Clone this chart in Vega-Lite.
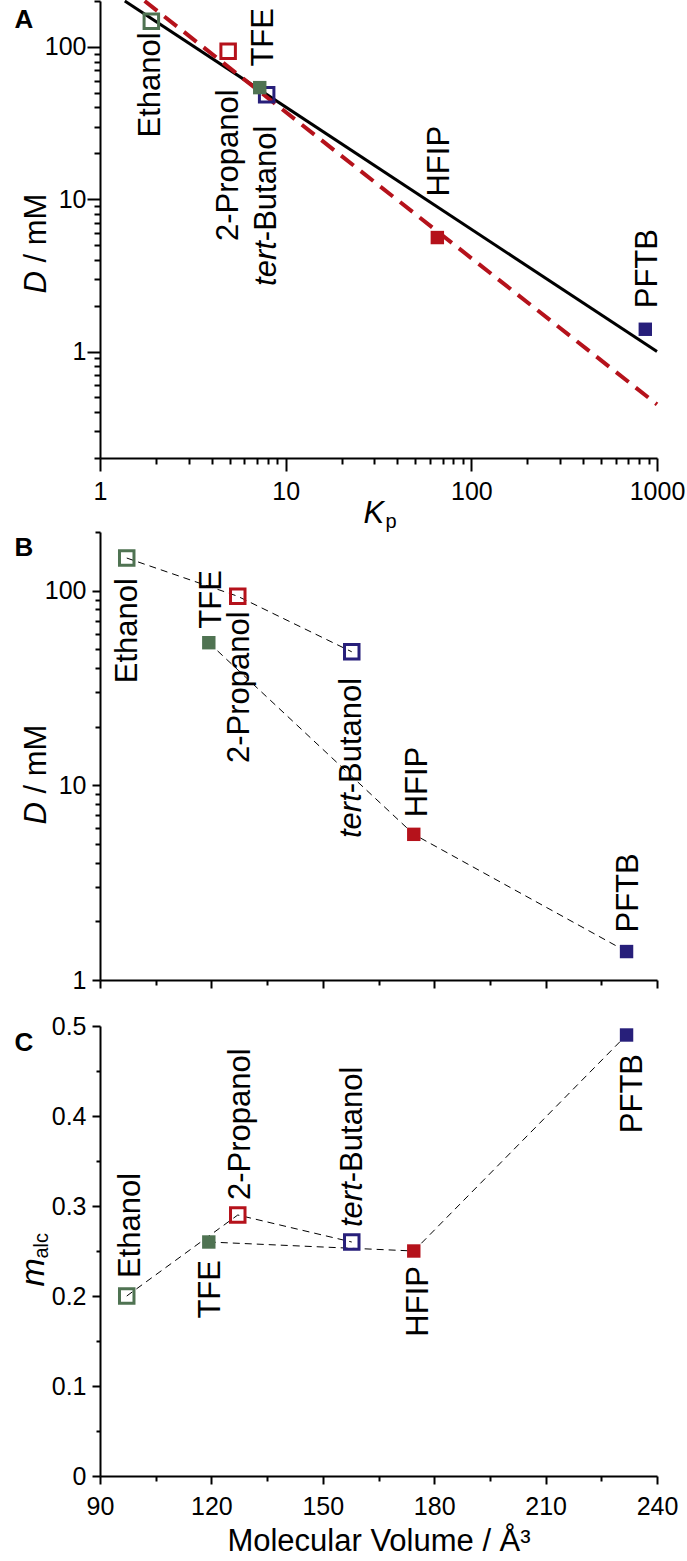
{
  "$schema": "https://vega.github.io/schema/vega-lite/v6.json",
  "background": "white",
  "padding": {"left": 14, "top": -7, "right": 0, "bottom": 0},
  "datasets": {
    "alc": [
      {"name": "Ethanol", "fluoro": false, "Kp": 1.89, "D": 147, "vol": 97.2, "malc": 0.20},
      {"name": "TFE", "fluoro": true, "Kp": 7.25, "D": 54, "vol": 119.3, "malc": 0.26},
      {"name": "2-Propanol", "fluoro": false, "Kp": 4.9, "D": 93.5, "vol": 127.1, "malc": 0.29},
      {"name": "HFIP", "fluoro": true, "Kp": 65.6, "D": 5.6, "vol": 174.5, "malc": 0.25},
      {"name": "tert-Butanol", "fluoro": false, "Kp": 7.9, "D": 48.5, "vol": 157.8, "malc": 0.26},
      {"name": "PFTB", "fluoro": true, "Kp": 865, "D": 1.4, "vol": 231.8, "malc": 0.49}
    ],
    "fits": [
      {"fit": "all", "Kp": 1.36, "D": 200},
      {"fit": "all", "Kp": 1000, "D": 1.0},
      {"fit": "sub", "Kp": 1.74, "D": 200},
      {"fit": "sub", "Kp": 1000, "D": 0.45}
    ]
  },
  "spacing": 0,
  "vconcat": [
    {
      "width": 557,
      "height": 457,
      "resolve": {"axis": {"x": "independent", "y": "independent"}},
      "encoding": {
        "x": {"field": "Kp", "type": "quantitative", "scale": {"type": "log", "domain": [1, 1000], "nice": false}, "axis": null},
        "y": {"field": "D", "type": "quantitative", "scale": {"type": "log", "domain": [0.2, 200], "nice": false}, "axis": null}
      },
      "layer": [
        {"data": {"name": "fits"}, "transform": [{"filter": "datum.fit == 'all'"}],
         "mark": {"type": "line", "color": "black", "strokeWidth": 3},
         "encoding": {
           "y": {"field": "D", "type": "quantitative", "scale": {"type": "log", "domain": [0.2, 200], "nice": false},
             "axis": {"orient": "left", "title": "A", "titleAngle": 0, "titleFontWeight": "bold", "titleFontSize": 26,
               "domain": false, "ticks": false, "labels": false,
               "titleX": -86, "titleY": 26, "titleAlign": "left", "titleBaseline": "alphabetic"}}}},
        {"data": {"name": "fits"}, "transform": [{"filter": "datum.fit == 'sub'"}],
         "mark": {"type": "line", "color": "#b5121b", "strokeWidth": 4, "strokeDash": [16, 9]}, "encoding": {}},
        {"data": {"name": "alc"}, "transform": [{"filter": "!datum.fluoro"}],
         "mark": {"type": "square", "filled": false, "size": 210, "strokeWidth": 3, "opacity": 1},
         "encoding": {
           "x": {"field": "Kp", "type": "quantitative", "scale": {"type": "log", "domain": [1, 1000], "nice": false},
             "axis": {"orient": "bottom", "title": "K", "titleFontStyle": "italic",
               "values": [1,2,3,4,5,6,7,8,9,10,20,30,40,50,60,70,80,90,100,200,300,400,500,600,700,800,900,1000],
               "labelExpr": "indexof([1,10,100,1000], datum.value) >= 0 ? datum.value + '' : ''",
               "tickSize": {"condition": {"test": "indexof([1,10,100,1000], datum.value) >= 0", "value": 13}, "value": 6},
               "labelPadding": 8, "titleX": 263, "titleY": 64, "titleAlign": "left", "titleBaseline": "alphabetic"}},
           "y": {"field": "D", "type": "quantitative", "scale": {"type": "log", "domain": [0.2, 200], "nice": false},
             "axis": {"orient": "left", "title": "D", "titleFontStyle": "italic",
               "values": [0.2,0.3,0.4,0.5,0.6,0.7,0.8,0.9,1,2,3,4,5,6,7,8,9,10,20,30,40,50,60,70,80,90,100],
               "labelExpr": "indexof([1,10,100], datum.value) >= 0 ? datum.value + '' : ''",
               "tickSize": {"condition": {"test": "indexof([1,10,100], datum.value) >= 0", "value": 13}, "value": 6},
               "labelPadding": 1, "titleX": -55, "titleY": 292, "titleAlign": "left", "titleBaseline": "alphabetic"}},
           "color": {"field": "name", "type": "nominal", "legend": null,
             "scale": {"domain": ["Ethanol","TFE","2-Propanol","HFIP","tert-Butanol","PFTB"], "range": ["#4f7352","#4f7352","#b5121b","#b5121b","#271f7a","#271f7a"]}}}},
        {"data": {"name": "alc"}, "transform": [{"filter": "datum.fluoro"}],
         "mark": {"type": "square", "filled": true, "size": 180, "opacity": 1},
         "encoding": {
           "x": {"field": "Kp", "type": "quantitative", "scale": {"type": "log", "domain": [1, 1000], "nice": false},
             "axis": {"orient": "bottom", "title": "p", "domain": false, "ticks": false, "labels": false, "titleFontSize": 20,
               "titleX": 285, "titleY": 69, "titleAlign": "left", "titleBaseline": "alphabetic"}},
           "y": {"field": "D", "type": "quantitative", "scale": {"type": "log", "domain": [0.2, 200], "nice": false},
             "axis": {"orient": "left", "title": "/ mM", "domain": false, "ticks": true, "labels": false,
               "values": [200], "tickSize": 6,
               "titleX": -55, "titleY": 261, "titleAlign": "left", "titleBaseline": "alphabetic"}},
           "color": {"field": "name", "type": "nominal", "legend": null}}},
        {"data": {"name": "alc"}, "transform": [{"filter": "datum.name == 'Ethanol'"}],
         "mark": {"type": "text", "font": "Liberation Sans", "fontSize": 31, "angle": 270, "baseline": "middle", "color": "black", "align": "right", "dx": -11, "dy": 0},
         "encoding": {"text": {"field": "name"}}},
        {"data": {"name": "alc"}, "transform": [{"filter": "datum.name == '2-Propanol'"}],
         "mark": {"type": "text", "font": "Liberation Sans", "fontSize": 31, "angle": 270, "baseline": "middle", "color": "black", "align": "right", "dx": -38, "dy": 1},
         "encoding": {"text": {"field": "name"}}},
        {"data": {"name": "alc"}, "transform": [{"filter": "datum.name == 'tert-Butanol'"}],
         "mark": {"type": "text", "font": "Liberation Sans", "fontSize": 31, "angle": 270, "baseline": "middle", "color": "black", "align": "right", "dx": -31, "dy": 0},
         "encoding": {"text": {"value": "-Butanol"}}},
        {"data": {"name": "alc"}, "transform": [{"filter": "datum.name == 'tert-Butanol'"}],
         "mark": {"type": "text", "font": "Liberation Sans", "fontSize": 31, "fontStyle": "italic", "angle": 270, "baseline": "middle", "color": "black", "align": "right", "dx": -146.4, "dy": 0},
         "encoding": {"text": {"value": "tert"}}},
        {"data": {"name": "alc"}, "transform": [{"filter": "datum.name == 'TFE'"}],
         "mark": {"type": "text", "font": "Liberation Sans", "fontSize": 31, "angle": 270, "baseline": "middle", "color": "black", "align": "left", "dx": 21, "dy": 4},
         "encoding": {"text": {"field": "name"}}},
        {"data": {"name": "alc"}, "transform": [{"filter": "datum.name == 'HFIP'"}],
         "mark": {"type": "text", "font": "Liberation Sans", "fontSize": 31, "angle": 270, "baseline": "middle", "color": "black", "align": "left", "dx": 41, "dy": 3},
         "encoding": {"text": {"field": "name"}}},
        {"data": {"name": "alc"}, "transform": [{"filter": "datum.name == 'PFTB'"}],
         "mark": {"type": "text", "font": "Liberation Sans", "fontSize": 31, "angle": 270, "baseline": "middle", "color": "black", "align": "left", "dx": 21, "dy": 3},
         "encoding": {"text": {"field": "name"}}}
      ]
    },
    {
      "width": 557,
      "height": 448,
      "resolve": {"axis": {"y": "independent"}},
      "encoding": {
        "x": {"field": "vol", "type": "quantitative",
          "scale": {"domain": [90, 240], "nice": false, "zero": false},
          "axis": {"title": null, "labels": false,
            "values": [90,105,120,135,150,165,180,195,210,225,240],
            "tickSize": {"condition": {"test": "datum.value % 30 == 0", "value": 8}, "value": 5},
            "minExtent": 34}},
        "y": {"field": "D", "type": "quantitative", "scale": {"type": "log", "domain": [1, 200], "nice": false}, "axis": null}
      },
      "layer": [
        {"data": {"name": "alc"},
         "mark": {"type": "line", "color": "black", "strokeWidth": 1, "strokeDash": [7, 5]},
         "encoding": {
           "detail": {"field": "fluoro", "type": "nominal"},
           "y": {"field": "D", "type": "quantitative", "scale": {"type": "log", "domain": [1, 200], "nice": false},
             "axis": {"orient": "left", "title": "B", "titleAngle": 0, "titleFontWeight": "bold", "titleFontSize": 26,
               "domain": false, "ticks": false, "labels": false,
               "titleX": -86, "titleY": 23, "titleAlign": "left", "titleBaseline": "alphabetic"}}}},
        {"data": {"name": "alc"}, "transform": [{"filter": "!datum.fluoro"}],
         "mark": {"type": "square", "filled": false, "size": 210, "strokeWidth": 3, "opacity": 1},
         "encoding": {
           "y": {"field": "D", "type": "quantitative", "scale": {"type": "log", "domain": [1, 200], "nice": false},
             "axis": {"orient": "left", "title": "D", "titleFontStyle": "italic",
               "values": [1,2,3,4,5,6,7,8,9,10,20,30,40,50,60,70,80,90,100],
               "labelExpr": "indexof([1,10,100], datum.value) >= 0 ? datum.value + '' : ''",
               "tickSize": {"condition": {"test": "indexof([1,10,100], datum.value) >= 0", "value": 8}, "value": 5},
               "labelPadding": 6, "titleX": -55, "titleY": 292, "titleAlign": "left", "titleBaseline": "alphabetic"}},
           "color": {"field": "name", "type": "nominal", "legend": null}}},
        {"data": {"name": "alc"}, "transform": [{"filter": "datum.fluoro"}],
         "mark": {"type": "square", "filled": true, "size": 180, "opacity": 1},
         "encoding": {
           "y": {"field": "D", "type": "quantitative", "scale": {"type": "log", "domain": [1, 200], "nice": false},
             "axis": {"orient": "left", "title": "/ mM", "domain": false, "ticks": true, "labels": false,
               "values": [200], "tickSize": 5,
               "titleX": -55, "titleY": 261, "titleAlign": "left", "titleBaseline": "alphabetic"}},
           "color": {"field": "name", "type": "nominal", "legend": null}}},
        {"data": {"name": "alc"}, "transform": [{"filter": "datum.name == 'Ethanol'"}],
         "mark": {"type": "text", "font": "Liberation Sans", "fontSize": 31, "angle": 270, "baseline": "middle", "color": "black", "align": "right", "dx": -20, "dy": 1},
         "encoding": {"text": {"field": "name"}}},
        {"data": {"name": "alc"}, "transform": [{"filter": "datum.name == 'TFE'"}],
         "mark": {"type": "text", "font": "Liberation Sans", "fontSize": 31, "angle": 270, "baseline": "middle", "color": "black", "align": "left", "dx": 14, "dy": 3},
         "encoding": {"text": {"field": "name"}}},
        {"data": {"name": "alc"}, "transform": [{"filter": "datum.name == '2-Propanol'"}],
         "mark": {"type": "text", "font": "Liberation Sans", "fontSize": 31, "angle": 270, "baseline": "middle", "color": "black", "align": "right", "dx": -15, "dy": 2},
         "encoding": {"text": {"field": "name"}}},
        {"data": {"name": "alc"}, "transform": [{"filter": "datum.name == 'tert-Butanol'"}],
         "mark": {"type": "text", "font": "Liberation Sans", "fontSize": 31, "angle": 270, "baseline": "middle", "color": "black", "align": "right", "dx": -26, "dy": 0},
         "encoding": {"text": {"value": "-Butanol"}}},
        {"data": {"name": "alc"}, "transform": [{"filter": "datum.name == 'tert-Butanol'"}],
         "mark": {"type": "text", "font": "Liberation Sans", "fontSize": 31, "fontStyle": "italic", "angle": 270, "baseline": "middle", "color": "black", "align": "right", "dx": -141.4, "dy": 0},
         "encoding": {"text": {"value": "tert"}}},
        {"data": {"name": "alc"}, "transform": [{"filter": "datum.name == 'HFIP'"}],
         "mark": {"type": "text", "font": "Liberation Sans", "fontSize": 31, "angle": 270, "baseline": "middle", "color": "black", "align": "left", "dx": 17, "dy": 4},
         "encoding": {"text": {"field": "name"}}},
        {"data": {"name": "alc"}, "transform": [{"filter": "datum.name == 'PFTB'"}],
         "mark": {"type": "text", "font": "Liberation Sans", "fontSize": 31, "angle": 270, "baseline": "middle", "color": "black", "align": "left", "dx": 19, "dy": 2},
         "encoding": {"text": {"field": "name"}}}
      ]
    },
    {
      "width": 557,
      "height": 450,
      "resolve": {"axis": {"y": "independent"}},
      "encoding": {
        "x": {"field": "vol", "type": "quantitative",
          "scale": {"domain": [90, 240], "nice": false, "zero": false},
          "axis": {"title": "Molecular Volume / Å³",
            "values": [90,105,120,135,150,165,180,195,210,225,240],
            "labelExpr": "datum.value % 30 == 0 ? datum.value + '' : ''",
            "tickSize": {"condition": {"test": "datum.value % 30 == 0", "value": 8}, "value": 5},
            "labelPadding": 10, "titleY": 74, "titleBaseline": "alphabetic"}},
        "y": {"field": "malc", "type": "quantitative", "scale": {"domain": [0, 0.5], "nice": false}, "axis": null}
      },
      "layer": [
        {"data": {"name": "alc"},
         "mark": {"type": "line", "color": "black", "strokeWidth": 1, "strokeDash": [7, 5]},
         "encoding": {
           "detail": {"field": "fluoro", "type": "nominal"},
           "y": {"field": "malc", "type": "quantitative", "scale": {"domain": [0, 0.5], "nice": false},
             "axis": {"orient": "left", "title": "C", "titleAngle": 0, "titleFontWeight": "bold", "titleFontSize": 26,
               "domain": false, "ticks": false, "labels": false,
               "titleX": -86, "titleY": 24, "titleAlign": "left", "titleBaseline": "alphabetic"}}}},
        {"data": {"name": "alc"}, "transform": [{"filter": "!datum.fluoro"}],
         "mark": {"type": "square", "filled": false, "size": 210, "strokeWidth": 3, "opacity": 1},
         "encoding": {
           "y": {"field": "malc", "type": "quantitative", "scale": {"domain": [0, 0.5], "nice": false},
             "axis": {"orient": "left", "title": "m", "titleFontStyle": "italic", "titleFontSize": 34,
               "values": [0,0.05,0.1,0.15,0.2,0.25,0.3,0.35,0.4,0.45,0.5],
               "labelExpr": "indexof([0,0.1,0.2,0.3,0.4,0.5], datum.value) >= 0 ? datum.value + '' : ''",
               "tickSize": {"condition": {"test": "indexof([0,0.1,0.2,0.3,0.4,0.5], datum.value) >= 0", "value": 8}, "value": 4},
               "labelPadding": 6, "titleX": -57, "titleY": 260, "titleAlign": "left", "titleBaseline": "alphabetic"}},
           "color": {"field": "name", "type": "nominal", "legend": null}}},
        {"data": {"name": "alc"}, "transform": [{"filter": "datum.fluoro"}],
         "mark": {"type": "square", "filled": true, "size": 180, "opacity": 1},
         "encoding": {
           "y": {"field": "malc", "type": "quantitative", "scale": {"domain": [0, 0.5], "nice": false},
             "axis": {"orient": "left", "title": "alc", "titleFontSize": 20, "domain": false, "ticks": false, "labels": false,
               "titleX": -53, "titleY": 232, "titleAlign": "left", "titleBaseline": "alphabetic"}},
           "color": {"field": "name", "type": "nominal", "legend": null}}},
        {"data": {"name": "alc"}, "transform": [{"filter": "datum.name == 'Ethanol'"}],
         "mark": {"type": "text", "font": "Liberation Sans", "fontSize": 31, "angle": 270, "baseline": "middle", "color": "black", "align": "left", "dx": 18, "dy": 4},
         "encoding": {"text": {"field": "name"}}},
        {"data": {"name": "alc"}, "transform": [{"filter": "datum.name == 'TFE'"}],
         "mark": {"type": "text", "font": "Liberation Sans", "fontSize": 31, "angle": 270, "baseline": "middle", "color": "black", "align": "right", "dx": -18, "dy": 2},
         "encoding": {"text": {"field": "name"}}},
        {"data": {"name": "alc"}, "transform": [{"filter": "datum.name == '2-Propanol'"}],
         "mark": {"type": "text", "font": "Liberation Sans", "fontSize": 31, "angle": 270, "baseline": "middle", "color": "black", "align": "left", "dx": 15, "dy": 3},
         "encoding": {"text": {"field": "name"}}},
        {"data": {"name": "alc"}, "transform": [{"filter": "datum.name == 'tert-Butanol'"}],
         "mark": {"type": "text", "font": "Liberation Sans", "fontSize": 31, "fontStyle": "italic", "angle": 270, "baseline": "middle", "color": "black", "align": "left", "dx": 15, "dy": 1},
         "encoding": {"text": {"value": "tert"}}},
        {"data": {"name": "alc"}, "transform": [{"filter": "datum.name == 'tert-Butanol'"}],
         "mark": {"type": "text", "font": "Liberation Sans", "fontSize": 31, "angle": 270, "baseline": "middle", "color": "black", "align": "left", "dx": 59.8, "dy": 1},
         "encoding": {"text": {"value": "-Butanol"}}},
        {"data": {"name": "alc"}, "transform": [{"filter": "datum.name == 'HFIP'"}],
         "mark": {"type": "text", "font": "Liberation Sans", "fontSize": 31, "angle": 270, "baseline": "middle", "color": "black", "align": "right", "dx": -15, "dy": 5},
         "encoding": {"text": {"field": "name"}}},
        {"data": {"name": "alc"}, "transform": [{"filter": "datum.name == 'PFTB'"}],
         "mark": {"type": "text", "font": "Liberation Sans", "fontSize": 31, "angle": 270, "baseline": "middle", "color": "black", "align": "right", "dx": -19, "dy": 6},
         "encoding": {"text": {"field": "name"}}}
      ]
    }
  ],
  "config": {
    "font": "Liberation Sans",
    "view": {"stroke": null},
    "axis": {
      "grid": false,
      "domainColor": "black", "domainWidth": 2,
      "tickColor": "black", "tickWidth": 2,
      "labelColor": "black", "labelFont": "Liberation Sans", "labelFontSize": 25,
      "labelOverlap": false, "labelFlush": false, "labelBound": false,
      "titleColor": "black", "titleFont": "Liberation Sans", "titleFontSize": 31, "titleFontWeight": "normal"
    }
  }
}
